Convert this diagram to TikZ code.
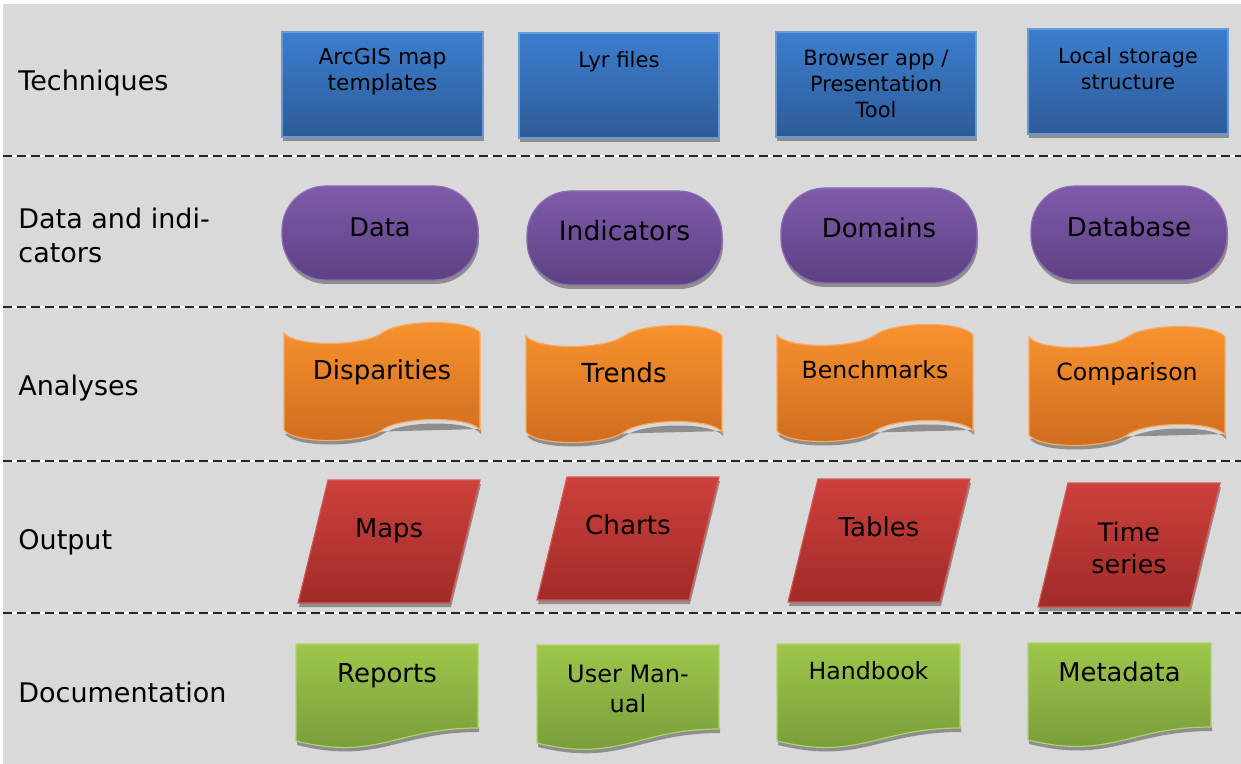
\documentclass[tikz,border=0pt]{standalone}
\usepackage{fontspec}
\setmainfont{DejaVu Sans}
\usepackage{tikz}

\definecolor{panel}{HTML}{D9D9D9}
\definecolor{shadowgray}{HTML}{8E8E8E}
\definecolor{techtop}{HTML}{3B7ECE}
\definecolor{techbot}{HTML}{2E5B98}
\definecolor{techline}{HTML}{6A9AD3}
\definecolor{datatop}{HTML}{7F5BAB}
\definecolor{databot}{HTML}{5D4183}
\definecolor{dataline}{HTML}{8C6CB3}
\definecolor{antop}{HTML}{F9932F}
\definecolor{anbot}{HTML}{CF6C1F}
\definecolor{anline}{HTML}{F8A95E}
\definecolor{outtop}{HTML}{CD403C}
\definecolor{outbot}{HTML}{A02B28}
\definecolor{outline}{HTML}{D35A55}
\definecolor{doctop}{HTML}{9DC74A}
\definecolor{docbot}{HTML}{76983A}
\definecolor{docline}{HTML}{AED36A}

\tikzset{
	rowlabel/.style={anchor=west, inner sep=0pt, align=left, font=\fontsize{13.5}{17}\selectfont},
	boxtext/.style={inner sep=0pt, align=center},
	sepline/.style={black!85, line width=0.8pt, dash pattern=on 4.5pt off 2.5pt},
	undershade/.style={fill=shadowgray},
	techbox/.style={top color=techtop, bottom color=techbot, draw=techline, line width=0.6pt},
	datapill/.style={top color=datatop, bottom color=databot, draw=dataline, line width=0.6pt, rounded corners=22pt},
	analysistape/.style={top color=antop, bottom color=anbot, draw=anline, line width=0.6pt},
	outputpara/.style={top color=outtop, bottom color=outbot, draw=outline, line width=0.6pt},
	docpage/.style={top color=doctop, bottom color=docbot, draw=docline, line width=0.6pt}
}

\begin{document}
\begin{tikzpicture}[x=0.5pt, y=-0.5pt]
	
	\useasboundingbox (0,0) rectangle (1241,764);
	\fill[panel] (3,4) rectangle (1241,764);
	
	\foreach \y in {156,307,461,613}{
		\draw[white, line width=0.8pt] (3,\y) -- (1241,\y);
		\draw[sepline] (3,\y) -- (1241,\y);
	}
	
	\node[rowlabel] (techniques) at (18,83) {Techniques};
	\node[rowlabel] (dataind) at (18,235) {Data and indi-\\cators};
	\node[rowlabel] (analyses) at (18,388) {Analyses};
	\node[rowlabel] (output) at (18,542) {Output};
	\node[rowlabel] (documentation) at (18,692) {Documentation};
	
	% techniques
	\foreach \xa/\ya/\xb/\yb/\ty/\fs/\txt [count=\i] in {282/32/483/137/72/10.9/{ArcGIS map\\templates}, 519/33/719/138/62/10.6/{Lyr files}, 776/32/976/137/84/10.5/{Browser app /\\Presentation\\Tool}, 1028/29/1228/134/69/10.4/{Local storage\\structure}}{
		\fill[undershade] (\xa+1,\ya+4) rectangle (\xb+1,\yb+4);
		\path[techbox] (\xa,\ya) rectangle (\xb,\yb);
		\node[boxtext, font=\fontsize{\fs}{12.9}\selectfont] (tech\i) at ({(\xa+\xb)/2},\ty) {\txt};
	}
	
	% data and indicators
	\foreach \xa/\ya/\xb/\yb/\ty/\fs/\txt [count=\i] in {282/186/478/280/227/12.8/Data, 527/191/722/285/231/13.3/Indicators, 781/188/977/283/228/13/Domains, 1031/186/1227/280/227/13/Database}{
		\fill[undershade, rounded corners=22pt] (\xa+1,\ya+4) rectangle (\xb+1,\yb+4);
		\path[datapill] (\xa,\ya) rectangle (\xb,\yb);
		\node[boxtext, font=\fontsize{\fs}{15.5}\selectfont] (data\i) at ({(\xa+\xb)/2},\ty) {\txt};
	}
	
	% analyses
	\foreach \xa/\ya/\xb/\yb/\ty/\fs/\txt [count=\i] in {284/333/480/430/372/13/Disparities, 526/336/722/432/373/13.1/Trends, 777/335/973/431/370/11.8/Benchmarks, 1029/337/1225/435/374/11.8/Comparison}{
		\pgfmathsetmacro\w{\xb-\xa}
		\fill[undershade] ({\xb+1},{\yb-1}) -- ({\xb+1},{\yb+4}) .. controls ({\xa+0.95*\w+1},{\yb-10}) and ({\xa+0.6*\w+1},{\yb-10}) .. ({\xa+0.5*\w+1},{\yb+4}) .. controls ({\xa+0.4*\w+1},{\yb+18}) and ({\xa+0.05*\w+1},{\yb+18}) .. ({\xa+1},{\yb+4}) -- cycle;
		\path[analysistape] (\xa,\ya) .. controls ({\xa+0.05*\w},{\ya+14}) and ({\xa+0.4*\w},{\ya+14}) .. ({\xa+0.5*\w},\ya) .. controls ({\xa+0.6*\w},{\ya-14}) and ({\xa+0.95*\w},{\ya-14}) .. (\xb,\ya) -- (\xb,\yb) .. controls ({\xa+0.95*\w},{\yb-14}) and ({\xa+0.6*\w},{\yb-14}) .. ({\xa+0.5*\w},\yb) .. controls ({\xa+0.4*\w},{\yb+14}) and ({\xa+0.05*\w},{\yb+14}) .. (\xa,\yb) -- cycle;
		\node[boxtext, font=\fontsize{\fs}{15.5}\selectfont] (analysis\i) at ({(\xa+\xb)/2},\ty) {\txt};
	}
	
	% output
	\foreach \xa/\ya/\yb/\ty/\fs/\txt [count=\i] in {298/480/603/531/12.9/Maps, 537/477/600/525/13.1/Charts, 788/479/602/527/13/Tables, 1038/483/607/548/12.7/{Time\\series}}{
		\fill[undershade] (\xa+1,\yb+4) -- (\xa+31,\ya+4) -- (\xa+183,\ya+4) -- (\xa+153,\yb+4) -- cycle;
		\path[outputpara] (\xa,\yb) -- (\xa+30,\ya) -- (\xa+182,\ya) -- (\xa+152,\yb) -- cycle;
		\node[boxtext, font=\fontsize{\fs}{16}\selectfont] (out\i) at (\xa+91,\ty) {\txt};
	}
	
	% documentation
	\foreach \xa/\ya/\xb/\yl/\yr/\ty/\fs/\txt [count=\i] in {296/644/478/741/728/676/13/Reports, 537/645/719/743/729/689/12/{User Man-\\ual}, 777/644/960/741/728/671/11.8/Handbook, 1028/643/1211/740/727/672/12.9/Metadata}{
		\pgfmathsetmacro\w{\xb-\xa}
		\fill[undershade] ({\xb+1},{\yr-1}) -- ({\xb+1},{\yr+4}) .. controls ({\xa+0.55*\w+1},{\yr+4}) and ({\xa+0.45*\w+1},{\yl+24}) .. ({\xa+1},{\yl+4}) -- ({\xa+1},{\yl-1}) -- cycle;
		\path[docpage] (\xa,\ya) -- (\xb,\ya) -- (\xb,\yr) .. controls ({\xa+0.55*\w},\yr) and ({\xa+0.45*\w},{\yl+20}) .. (\xa,\yl) -- cycle;
		\node[boxtext, font=\fontsize{\fs}{15}\selectfont] (doc\i) at ({(\xa+\xb)/2},\ty) {\txt};
	}
	
\end{tikzpicture}
\end{document}
